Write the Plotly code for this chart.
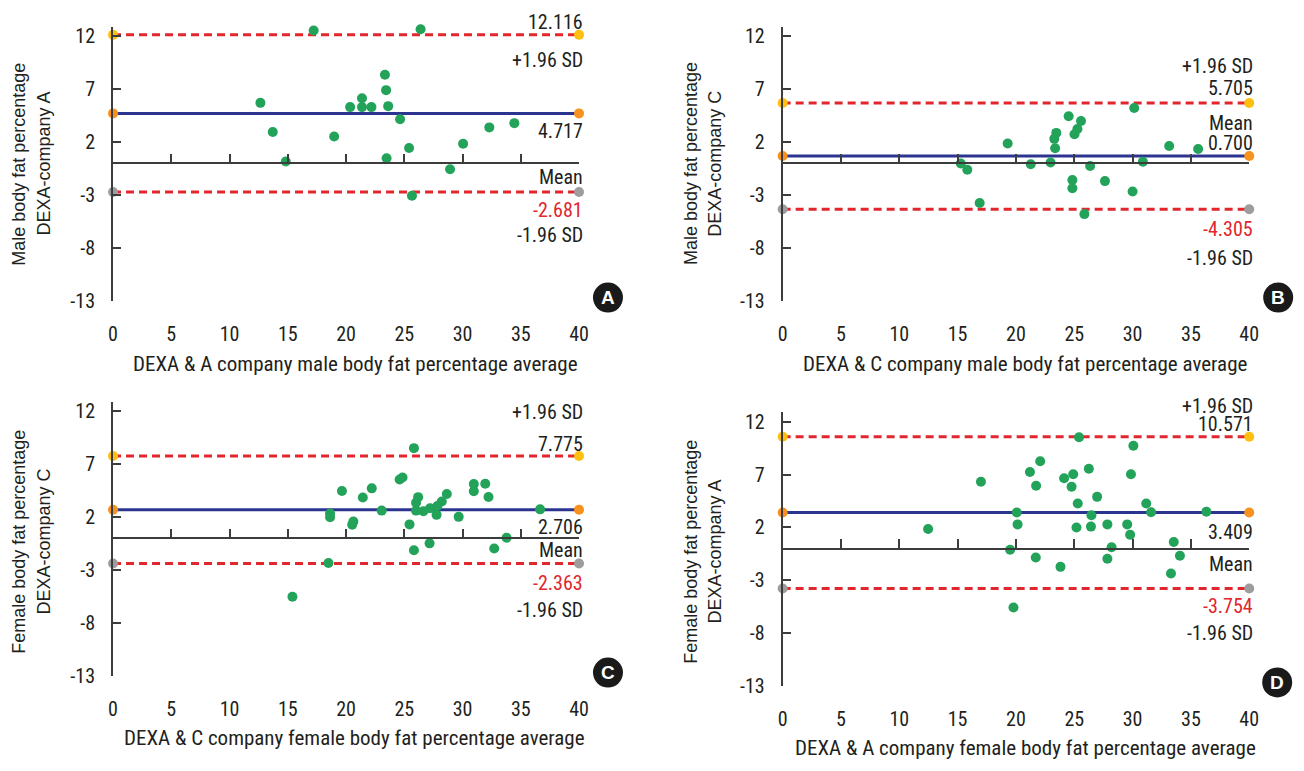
import plotly.graph_objects as go

W, H = 1304, 771

# ---------------- data ----------------
X_TICKS = [0, 5, 10, 15, 20, 25, 30, 35, 40]
Y_TICKS = [12, 7, 2, -3, -8, -13]
X_RANGE = [0, 40]
Y_RANGE = [-13, 12.9]

# Panel A: DEXA vs company A, male
a_avg = [17.22, 26.40, 12.65, 13.71, 14.83, 18.98, 20.35, 21.37, 21.37, 22.18, 23.34,
         23.44, 23.62, 24.64, 23.48, 25.41, 25.66, 28.93, 30.05, 32.30, 34.45]
a_diff = [12.52, 12.65, 5.71, 2.97, 0.19, 2.54, 5.31, 6.14, 5.31, 5.31, 8.36,
          6.91, 5.40, 4.17, 0.50, 1.46, -3.04, -0.55, 1.86, 3.40, 3.80]
a_limits = [12.116, 4.717, -2.681]  # +1.96 SD, mean, -1.96 SD

# Panel B: DEXA vs company C, male
b_avg = [15.27, 15.83, 16.89, 19.29, 21.27, 22.97, 23.29, 23.46, 23.36, 24.52, 24.84, 24.84,
         25.02, 25.27, 25.58, 25.87, 26.36, 27.63, 30.00, 30.14, 30.88, 33.14, 35.62]
b_diff = [0.00, -0.59, -3.72, 1.89, -0.08, 0.09, 2.32, 2.88, 1.43, 4.45, -1.56, -2.33,
          2.75, 3.25, 4.00, -4.77, -0.24, -1.66, -2.64, 5.22, 0.16, 1.64, 1.37]
b_limits = [5.705, 0.700, -4.305]

# Panel C: DEXA vs company C, female
c_avg = [15.40, 18.49, 18.63, 18.63, 19.65, 20.53, 20.63, 21.44, 22.21, 23.06, 24.60, 24.85,
         25.45, 25.83, 25.83, 26.01, 26.19, 26.01, 26.64, 27.21, 27.17, 27.77, 27.84, 28.22,
         28.65, 29.67, 30.97, 30.97, 31.95, 32.23, 32.72, 33.78, 36.66]
c_diff = [-5.50, -2.32, 2.34, 2.00, 4.47, 1.29, 1.60, 3.85, 4.72, 2.62, 5.55, 5.74,
          1.32, 8.51, -1.12, 3.36, 3.89, 2.62, 2.56, 2.84, -0.47, 2.22, 3.05, 3.48,
          4.19, 2.03, 5.12, 4.44, 5.15, 3.91, -0.96, 0.06, 2.74]
c_limits = [7.775, 2.706, -2.363]

# Panel D: DEXA vs company A, female
d_avg = [12.47, 17.00, 19.50, 19.79, 20.07, 20.14, 21.20, 21.70, 21.73, 22.08, 23.82, 24.13,
         24.77, 24.91, 25.19, 25.30, 25.41, 26.25, 26.47, 26.43, 26.96, 27.84, 27.84, 28.20,
         29.54, 29.79, 29.86, 30.07, 31.17, 31.59, 33.29, 33.53, 34.06, 36.33]
d_diff = [1.86, 6.31, -0.11, -5.55, 3.41, 2.29, 7.24, -0.83, 5.94, 8.26, -1.72, 6.65,
          5.84, 7.02, 1.99, 4.27, 10.52, 7.55, 3.16, 2.08, 4.89, 2.29, -0.95, 0.13,
          2.29, 1.31, 7.02, 9.71, 4.27, 3.44, -2.34, 0.63, -0.67, 3.49]
d_limits = [10.571, 3.409, -3.754]

x_titles = ["DEXA & A company male body fat percentage average",
            "DEXA & C company male body fat percentage average",
            "DEXA & C company female body fat percentage average",
            "DEXA & A company female body fat percentage average"]
y_titles = [("Male body fat percentage", "DEXA-company A"),
            ("Male body fat percentage", "DEXA-company C"),
            ("Female body fat percentage", "DEXA-company C"),
            ("Female body fat percentage", "DEXA-company A")]
letters = ["A", "B", "C", "D"]

# ---------------- styling ----------------
GREEN = "#23a25a"
GOLD = "#fdc010"
ORANGE = "#f7921e"
GREY = "#9d9d9d"
RED = "#e1262d"
NAVY = "#2b3590"
AXIS = "#3c3c3c"
TEXT = "#231f20"
NARROW = "Roboto Condensed, Liberation Sans Narrow, Roboto, sans-serif"
REGULAR = "Liberation Sans, Arial, sans-serif"

# panel geometry in pixels: left, right, top, bottom
geom = [
    (109.3, 580.7, 25.0, 305.0),
    (786.7, 1258.7, 25.0, 305.0),
    (109.3, 580.7, 407.0, 686.7),
    (786.7, 1258.7, 417.6, 697.0),
]
# right-side labels: (text, pixel y, color)
side_labels = [
    [("12.116", 20, TEXT), ("+1.96 SD", 59, TEXT), ("4.717", 131, TEXT),
     ("Mean", 178, TEXT), ("-2.681", 212, RED), ("-1.96 SD", 237, TEXT)],
    [("+1.96 SD", 65, TEXT), ("5.705", 88, TEXT), ("Mean", 123, TEXT),
     ("0.700", 144, TEXT), ("-4.305", 231, RED), ("-1.96 SD", 261, TEXT)],
    [("+1.96 SD", 418, TEXT), ("7.775", 450, TEXT), ("2.706", 535, TEXT),
     ("Mean", 558, TEXT), ("-2.363", 592, RED), ("-1.96 SD", 619, TEXT)],
    [("+1.96 SD", 411, TEXT), ("10.571", 430, TEXT), ("3.409", 540, TEXT),
     ("Mean", 572, TEXT), ("-3.754", 615, RED), ("-1.96 SD", 643, TEXT)],
]
ytitle_pos = [(14, 39, 165), (694, 718, 165), (14, 39, 550), (694, 718, 560)]
xtitle_pos = [(355, 369), (1032, 369), (354, 750), (1032, 760)]
badge_pos = [(610, 301), (1288, 301), (610, 683), (1287, 693)]


def px(v):
    return v / W


def py(v):
    return 1 - v / H


avgs = [a_avg, b_avg, c_avg, d_avg]
diffs = [a_diff, b_diff, c_diff, d_diff]
limits = [a_limits, b_limits, c_limits, d_limits]

fig = go.Figure()
layout = dict(width=W, height=H, margin=dict(l=0, r=0, t=0, b=0),
              paper_bgcolor="white", plot_bgcolor="white", showlegend=False)
annotations = []
shapes = []

for i in range(4):
    n = i + 1
    xa = "x" if n == 1 else f"x{n}"
    ya = "y" if n == 1 else f"y{n}"
    l, r, t, b = geom[i]
    dom_x = [px(l), px(r)]
    dom_y = [py(b), py(t)]
    up, mean, low = limits[i]

    # limit lines
    for val, lc, dash in [(up, RED, "8px,5px"), (low, RED, "8px,5px"), (mean, NAVY, "solid")]:
        fig.add_trace(go.Scatter(
            x=X_RANGE, y=[val, val], xaxis=xa, yaxis=ya, mode="lines",
            line=dict(color=lc, width=3, dash=dash), hoverinfo="skip", cliponaxis=False))
    # data points
    fig.add_trace(go.Scatter(
        x=avgs[i], y=diffs[i], xaxis=xa, yaxis=ya, mode="markers",
        marker=dict(color=GREEN, size=10, line=dict(width=0)), cliponaxis=False))
    # end markers
    for val, mc in [(up, GOLD), (mean, ORANGE), (low, GREY)]:
        fig.add_trace(go.Scatter(
            x=X_RANGE, y=[val, val], xaxis=xa, yaxis=ya, mode="markers",
            marker=dict(color=mc, size=10, line=dict(width=0)), cliponaxis=False,
            hoverinfo="skip"))

    # overlay axis that draws the zero line with ticks
    ov = 4 + n
    zero_px = t + (Y_RANGE[1] - 0) / (Y_RANGE[1] - Y_RANGE[0]) * (b - t)
    fig.add_trace(go.Scatter(x=[None], y=[None], xaxis=f"x{ov}", yaxis=ya,
                             hoverinfo="skip"))

    layout["xaxis" if n == 1 else f"xaxis{n}"] = dict(
        domain=dom_x, anchor=ya, range=X_RANGE, tickvals=X_TICKS,
        ticktext=[str(v) for v in X_TICKS],
        showline=False, ticks="", showgrid=False, zeroline=False,
        tickfont=dict(family=NARROW, size=20, color=TEXT), ticklabelstandoff=19)
    layout["yaxis" if n == 1 else f"yaxis{n}"] = dict(
        domain=dom_y, anchor=xa, range=Y_RANGE, tickvals=Y_TICKS,
        ticktext=[str(v) for v in Y_TICKS],
        showline=True, linecolor=AXIS, linewidth=2, ticks="inside", ticklen=8,
        tickwidth=1.5, tickcolor=AXIS, showgrid=False, zeroline=False,
        tickfont=dict(family=NARROW, size=20, color=TEXT), ticklabelstandoff=12)
    layout[f"xaxis{ov}"] = dict(
        overlaying=xa, anchor="free", position=py(zero_px), range=X_RANGE,
        tickvals=X_TICKS[1:], showticklabels=False, showline=True, linecolor=AXIS,
        linewidth=1.5, ticks="inside", ticklen=9, tickwidth=1.5, tickcolor=AXIS,
        showgrid=False, zeroline=False)

    # right-hand labels
    for txt, yy, col in side_labels[i]:
        annotations.append(dict(
            text=txt, xref="paper", yref="paper", x=px(r + 6), y=py(yy),
            xanchor="right", yanchor="middle", showarrow=False,
            font=dict(family=NARROW, size=20, color=col)))
    # y titles
    x1p, x2p, yc = ytitle_pos[i]
    for txt, xx in zip(y_titles[i], (x1p, x2p)):
        annotations.append(dict(
            text=txt, xref="paper", yref="paper", x=px(xx), y=py(yc),
            xanchor="center", yanchor="middle", textangle=-90, showarrow=False,
            font=dict(family=REGULAR, size=18, color=TEXT)))
    # x title
    xx, yy = xtitle_pos[i]
    annotations.append(dict(
        text=x_titles[i], xref="paper", yref="paper", x=px(xx), y=py(yy),
        xanchor="center", yanchor="middle", showarrow=False,
        font=dict(family=NARROW, size=21, color=TEXT)))
    # badge
    bx, by = badge_pos[i]
    shapes.append(dict(type="circle", xref="paper", yref="paper",
                       xsizemode="pixel", ysizemode="pixel",
                       xanchor=px(bx), yanchor=py(by), x0=-15, x1=15, y0=-15, y1=15,
                       fillcolor="#1a1a1a", line=dict(width=0)))
    annotations.append(dict(
        text=f"<b>{letters[i]}</b>", xref="paper", yref="paper", x=px(bx), y=py(by),
        xanchor="center", yanchor="middle", showarrow=False,
        font=dict(family="Liberation Sans, Arial, sans-serif", size=19, color="white")))

layout["annotations"] = annotations
layout["shapes"] = shapes
fig.update_layout(**layout)
fig.write_html("out.html", config={"displayModeBar": False},
               post_script="document.body.style.margin='0';")
